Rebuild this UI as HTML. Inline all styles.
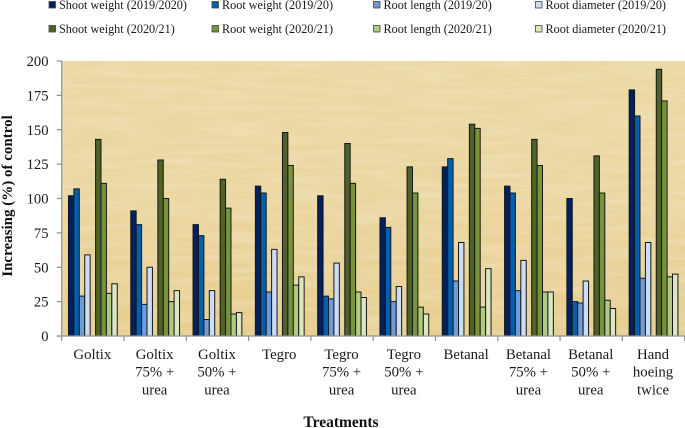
<!DOCTYPE html>
<html lang="en">
<head>
<meta charset="utf-8">
<title>Increasing (%) of control by treatment</title>
<style>
html,body{margin:0;padding:0;background:#fff;width:685px;height:428px;overflow:hidden}
svg{display:block;filter:blur(0.35px)}
text{font-family:"Liberation Serif",serif;fill:#1a1a1a}
</style>
</head>
<body>
<svg id="chart" xmlns="http://www.w3.org/2000/svg" width="685" height="428" viewBox="0 0 685 428">
  <defs>
    <linearGradient id="paper-base" x1="0" y1="0" x2="0" y2="1">
      <stop offset="0" stop-color="#ebd8a3"/>
      <stop offset="0.5" stop-color="#ebd6a0"/>
      <stop offset="1" stop-color="#e6cd8d"/>
    </linearGradient>
    <filter id="paper-v" x="0" y="0" width="100%" height="100%">
      <feTurbulence type="fractalNoise" baseFrequency="0.16 0.015" numOctaves="3" seed="7"/>
      <feColorMatrix type="matrix" values="0 0 0 0 0.80  0 0 0 0 0.66  0 0 0 0 0.34  1.5 0 0 0 -0.55"/>
    </filter>
    <filter id="paper-h" x="0" y="0" width="100%" height="100%">
      <feTurbulence type="fractalNoise" baseFrequency="0.015 0.18" numOctaves="3" seed="19"/>
      <feColorMatrix type="matrix" values="0 0 0 0 0.97  0 0 0 0 0.88  0 0 0 0 0.72  1.5 0 0 0 -0.5"/>
    </filter>
  </defs>
  <g id="plot-bg">
    <rect x="62" y="61" width="623" height="275" fill="url(#paper-base)"/>
    <rect x="62" y="61" width="623" height="275" filter="url(#paper-v)" opacity="0.4"/>
    <rect x="62" y="61" width="623" height="275" filter="url(#paper-h)" opacity="0.4"/>
  </g>
  <g id="bars"></g>
  <g id="axes"></g>
  <g id="legend"></g>
  <text transform="translate(12,196) rotate(-90)" text-anchor="middle" font-size="15" font-weight="bold" style="fill:#111">Increasing (%) of control</text>
  <text x="341" y="427" text-anchor="middle" font-size="15.5" font-weight="bold" style="fill:#111">Treatments</text>
</svg>
<script>
const categories = [
  ["Goltix"],
  ["Goltix", "75% +", "urea"],
  ["Goltix", "50% +", "urea"],
  ["Tegro"],
  ["Tegro", "75% +", "urea"],
  ["Tegro", "50% +", "urea"],
  ["Betanal"],
  ["Betanal", "75% +", "urea"],
  ["Betanal", "50% +", "urea"],
  ["Hand", "hoeing", "twice"]
];
const yTicks = [0, 25, 50, 75, 100, 125, 150, 175, 200];
const seriesNames = [
  "Shoot weight (2019/2020)", "Root weight (2019/20)", "Root length (2019/20)", "Root diameter (2019/20)",
  "Shoot weight (2020/21)", "Root weight (2020/21)", "Root length (2020/21)", "Root diameter (2020/21)"
];
const seriesColors = ["#002060", "#0060ad", "#6f9bd8", "#cbdcf3", "#4f6228", "#77933c", "#b0cb7e", "#dce7c2"];
const shootWeight1 = [102, 91, 81, 109, 102, 86, 123, 109, 100, 179];
const rootWeight1 = [107, 81, 73, 104, 29, 79, 129, 104, 25, 160];
const rootLength1 = [29, 23, 12, 32, 27, 25, 40, 33, 24, 42];
const rootDiameter1 = [59, 50, 33, 63, 53, 36, 68, 55, 40, 68];
const shootWeight2 = [143, 128, 114, 148, 140, 123, 154, 143, 131, 194];
const rootWeight2 = [111, 100, 93, 124, 111, 104, 151, 124, 104, 171];
const rootLength2 = [31, 25, 16, 37, 32, 21, 21, 32, 26, 43];
const rootDiameter2 = [38, 33, 17, 43, 28, 16, 49, 32, 20, 45];
const allSeries = [shootWeight1, rootWeight1, rootLength1, rootDiameter1, shootWeight2, rootWeight2, rootLength2, rootDiameter2];

const NS = "http://www.w3.org/2000/svg";
const plotLeft = 61.7, plotRight = 684.7, plotTop = 61, plotBottom = 336;
const yMax = 200;
const band = (plotRight - plotLeft) / categories.length;
const barW = 5.42;
const sidePad = (band - 9 * barW) / 2;
const axisColor = "#8f8f95";

function yScale(v) { return plotBottom - (v / yMax) * (plotBottom - plotTop); }
function xBand(i) { return plotLeft + i * band; }
function xBar(c, s) {
  const slot = s < 4 ? s : s + 1;
  return xBand(c) + sidePad + slot * barW;
}
function make(tag, attrs, parent) {
  const el = document.createElementNS(NS, tag);
  for (const k in attrs) el.setAttribute(k, attrs[k]);
  parent.appendChild(el);
  return el;
}

const barsG = document.getElementById("bars");
allSeries.forEach(function (vals, s) {
  vals.forEach(function (v, c) {
    const r = make("rect", {
      x: xBar(c, s), y: yScale(v), width: barW, height: plotBottom - yScale(v),
      fill: seriesColors[s], stroke: "#14181a", "stroke-width": 1
    }, barsG);
    
    
  });
});

const axesG = document.getElementById("axes");
const yLine = make("line", { x1: plotLeft, x2: plotLeft, y1: plotTop, y2: plotBottom, stroke: axisColor, "stroke-width": 1.2 }, axesG);


const xLine = make("line", { x1: plotLeft - 5, x2: plotRight, y1: plotBottom, y2: plotBottom, stroke: axisColor, "stroke-width": 1.2 }, axesG);



yTicks.forEach(function (t) {
  const tick = make("line", { x1: plotLeft - 5, x2: plotLeft, y1: yScale(t), y2: yScale(t), stroke: axisColor, "stroke-width": 1.2 }, axesG);
  
  
  const label = make("text", { x: 48.5, y: yScale(t) + 5, "text-anchor": "end", "font-size": 14.6 }, axesG);
  
  
  label.textContent = t;
});

for (let i = 0; i <= categories.length; i++) {
  const tick = make("line", { x1: xBand(i), x2: xBand(i), y1: plotBottom, y2: plotBottom + 5, stroke: axisColor, "stroke-width": 1.2 }, axesG);
  
  
}

categories.forEach(function (lines, i) {
  const label = make("text", { "text-anchor": "middle", "font-size": 14.8 }, axesG);
  
  
  lines.forEach(function (line, j) {
    const sp = make("tspan", { x: xBand(i) + band / 2 - 0.5, y: 359 + j * 17.7 }, label);
    sp.textContent = line;
  });
});

const legendG = document.getElementById("legend");
const legendCols = [49, 212, 373.5, 535.5];
const legendRows = [5, 29];
seriesNames.forEach(function (name, s) {
  const col = s % 4, row = Math.floor(s / 4);
  const sw = make("rect", {
    x: legendCols[col], y: legendRows[row] - 3.5, width: 6.5, height: 6.5,
    fill: seriesColors[s], stroke: "#444", "stroke-width": 0.8
  }, legendG);
  
  
  const t = make("text", { x: legendCols[col] + 10, y: legendRows[row] + 4, "font-size": 12.2 }, legendG);
  
  
  t.textContent = name;
});
</script>
</body>
</html>
